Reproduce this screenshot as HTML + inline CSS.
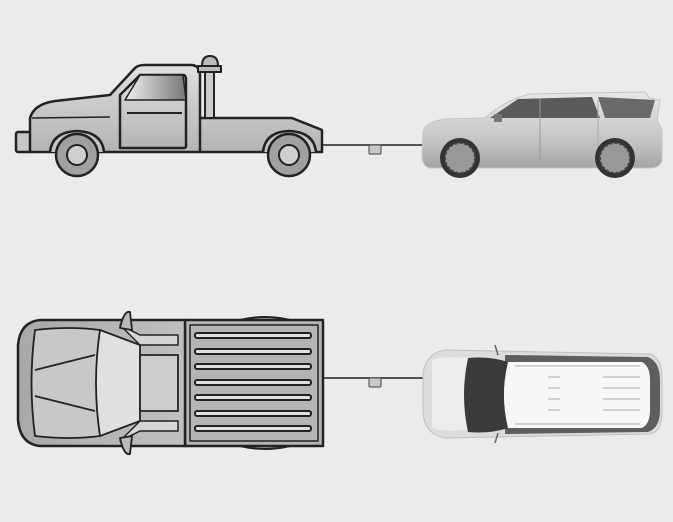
<!DOCTYPE html>
<html><head><style>html,body{margin:0;padding:0;background:#ebebeb;}svg{display:block}</style></head><body>
<svg width="673" height="522" viewBox="0 0 673 522" xmlns="http://www.w3.org/2000/svg">
<defs>
<linearGradient id="g1" x1="0" y1="0" x2="0" y2="1"><stop offset="0" stop-color="#e2e2e2"/><stop offset="0.5" stop-color="#c8c8c8"/><stop offset="1" stop-color="#b4b4b4"/></linearGradient>
<linearGradient id="gw" x1="0" y1="0" x2="1" y2="0"><stop offset="0" stop-color="#f0f0f0"/><stop offset="1" stop-color="#777"/></linearGradient>
<linearGradient id="gv" x1="0" y1="0" x2="0" y2="1"><stop offset="0" stop-color="#e8e8e8"/><stop offset="0.4" stop-color="#d2d2d2"/><stop offset="0.7" stop-color="#c0c0c0"/><stop offset="1" stop-color="#a4a4a4"/></linearGradient>
<linearGradient id="gb" x1="0" y1="0" x2="1" y2="0"><stop offset="0" stop-color="#a8a8a8"/><stop offset="1" stop-color="#c0c0c0"/></linearGradient>
</defs>
<rect width="673" height="522" fill="#ebebeb"/>
<!-- TOP TRUCK -->
<g stroke="#222" stroke-width="2.5" stroke-linejoin="round">
<rect x="16" y="132" width="16" height="20" rx="2" fill="#c8c8c8"/>
<path d="M30,150 L30,118 Q34,104 55,101 L110,95 L135,68 Q138,65 145,65 L192,65 Q200,66 200,75 L200,118 L292,118 L322,130 L322,152 L30,152 Z" fill="url(#g1)"/>
<path d="M200,118 L200,152" fill="none"/>
<path d="M32,118 L110,117" fill="none" stroke-width="1.5"/>
<path d="M120,148 L120,95 L140,75 L183,75 Q186,75 186,80 L186,146 Q186,148 183,148 Z" fill="url(#g1)"/>
<path d="M140,75 L183,75 L186,100 L125,100 Z" fill="url(#gw)" stroke-width="1.5"/>
<path d="M127,113 L182,113" stroke-width="2"/>
<rect x="205" y="68" width="9" height="50" fill="#ccc" stroke-width="2"/>
<rect x="198" y="66" width="23" height="6" fill="#bbb" stroke-width="2"/>
<path d="M202,66 Q202,56 210,56 Q218,56 218,66 Z" fill="#bbb" stroke-width="2"/>
<path d="M50,152 Q52,132 77,131 Q102,132 104,152" fill="#c4c4c4"/>
<path d="M263,152 Q265,132 289,131 Q314,132 316,152" fill="#c4c4c4"/>
<circle cx="77" cy="155" r="21" fill="#a0a0a0"/>
<circle cx="77" cy="155" r="10" fill="#cfcfcf" stroke-width="2"/>
<circle cx="289" cy="155" r="21" fill="#a0a0a0"/>
<circle cx="289" cy="155" r="10" fill="#cfcfcf" stroke-width="2"/>
</g>
<line x1="322" y1="145" x2="425" y2="145" stroke="#222" stroke-width="1.5"/>
<rect x="369" y="145" width="12" height="9" rx="1" fill="#c8c8c8" stroke="#444" stroke-width="1"/>
<!-- TOP VAN -->
<g>
<path d="M423,132 Q425,122 445,119 L485,118 Q505,100 530,94 L645,92 L650,98 L660,100 L657,120 L662,130 L662,160 Q660,168 650,168 L430,168 Q422,166 422,155 Z" fill="url(#gv)" stroke="#c4c4c4" stroke-width="1"/>
<path d="M490,118 L518,99 L592,97 L600,118 Z" fill="#5a5a5a"/>
<path d="M598,97 L655,100 L650,118 L605,118 Z" fill="#6a6a6a"/>
<line x1="540" y1="98" x2="540" y2="160" stroke="#999" stroke-width="1"/>
<line x1="598" y1="100" x2="598" y2="160" stroke="#aaa" stroke-width="1"/>
<rect x="494" y="114" width="8" height="8" fill="#777"/>
<circle cx="460" cy="158" r="20" fill="#333"/><circle cx="460" cy="158" r="15" fill="#999" stroke="#444" stroke-width="2" stroke-dasharray="3 2"/>
<circle cx="615" cy="158" r="20" fill="#333"/><circle cx="615" cy="158" r="15" fill="#999" stroke="#444" stroke-width="2" stroke-dasharray="3 2"/>
</g>
<!-- BOTTOM TRUCK -->
<g stroke="#222" stroke-width="2.5" stroke-linejoin="round">
<path d="M240,320 Q265,314 290,320 Z M240,446 Q265,452 290,446 Z" fill="#aaa" stroke-width="2"/>
<rect x="185" y="320" width="138" height="126" fill="#b4b4b4"/>
<rect x="190" y="325" width="128" height="116" fill="none" stroke-width="1.5"/>
<path d="M185,320 L40,320 Q20,322 18,345 L18,420 Q20,444 40,446 L185,446 Z" fill="url(#gb)"/>
<path d="M35,330 Q70,326 100,330 L100,436 Q70,440 35,436 Q28,383 35,330 Z" fill="#c8c8c8" stroke-width="1.8"/>
<path d="M35,370 L95,355 M35,396 L95,411" fill="none" stroke-width="1.8"/>
<path d="M100,330 L140,345 L140,421 L100,436 Q92,383 100,330 Z" fill="#e0e0e0" stroke-width="1.8"/>
<rect x="140" y="355" width="38" height="56" fill="#cccccc" stroke-width="1.8"/>
<path d="M120,325 L140,335 L178,335 L178,345 L140,345 Z M120,441 L140,431 L178,431 L178,421 L140,421 Z" fill="#d6d6d6" stroke-width="1.5"/>
<path d="M120,328 Q124,310 130,312 L132,330 Z M120,438 Q124,456 130,454 L132,436 Z" fill="#bbb" stroke-width="1.8"/>
<g fill="#e0e0e0" stroke-width="2">
<rect x="195" y="333" width="116" height="5" rx="2"/>
<rect x="195" y="349" width="116" height="5" rx="2"/>
<rect x="195" y="364" width="116" height="5" rx="2"/>
<rect x="195" y="380" width="116" height="5" rx="2"/>
<rect x="195" y="395" width="116" height="5" rx="2"/>
<rect x="195" y="411" width="116" height="5" rx="2"/>
<rect x="195" y="426" width="116" height="5" rx="2"/>
</g>
</g>
<line x1="323" y1="378" x2="426" y2="378" stroke="#222" stroke-width="1.5"/>
<rect x="369" y="378" width="12" height="9" rx="1" fill="#c8c8c8" stroke="#444" stroke-width="1"/>
<!-- BOTTOM VAN -->
<g>
<path d="M445,350 L650,354 Q662,358 662,378 L662,412 Q662,432 650,434 L445,438 Q424,434 423,412 L423,376 Q424,354 445,350 Z" fill="#dcdcdc" stroke="#c0c0c0" stroke-width="1"/>
<path d="M432,360 Q440,356 468,358 L468,430 Q440,432 432,428 Z" fill="#ececec"/>
<path d="M505,355 L648,357 Q660,362 660,380 L660,410 Q660,428 648,432 L505,434 Z" fill="#5e5e5e"/>
<path d="M468,358 Q490,356 508,362 Q500,395 508,428 Q490,434 468,432 Q460,395 468,358 Z" fill="#3a3a3a"/>
<path d="M508,362 L642,362 Q650,366 650,380 L650,410 Q650,424 642,428 L508,428 Q500,395 508,362 Z" fill="#f8f8f8"/>
<g stroke="#aaa" stroke-width="1">
<line x1="515" y1="366" x2="640" y2="366"/><line x1="515" y1="424" x2="640" y2="424"/>
<line x1="548" y1="377" x2="560" y2="377"/><line x1="548" y1="388" x2="560" y2="388"/><line x1="548" y1="399" x2="560" y2="399"/><line x1="548" y1="410" x2="560" y2="410"/>
<line x1="603" y1="377" x2="640" y2="377"/><line x1="603" y1="388" x2="640" y2="388"/><line x1="603" y1="399" x2="640" y2="399"/><line x1="603" y1="410" x2="640" y2="410"/>
</g>
<line x1="495" y1="345" x2="498" y2="355" stroke="#666" stroke-width="1.5"/>
<line x1="495" y1="443" x2="498" y2="433" stroke="#666" stroke-width="1.5"/>
</g>
</svg>
</body></html>
